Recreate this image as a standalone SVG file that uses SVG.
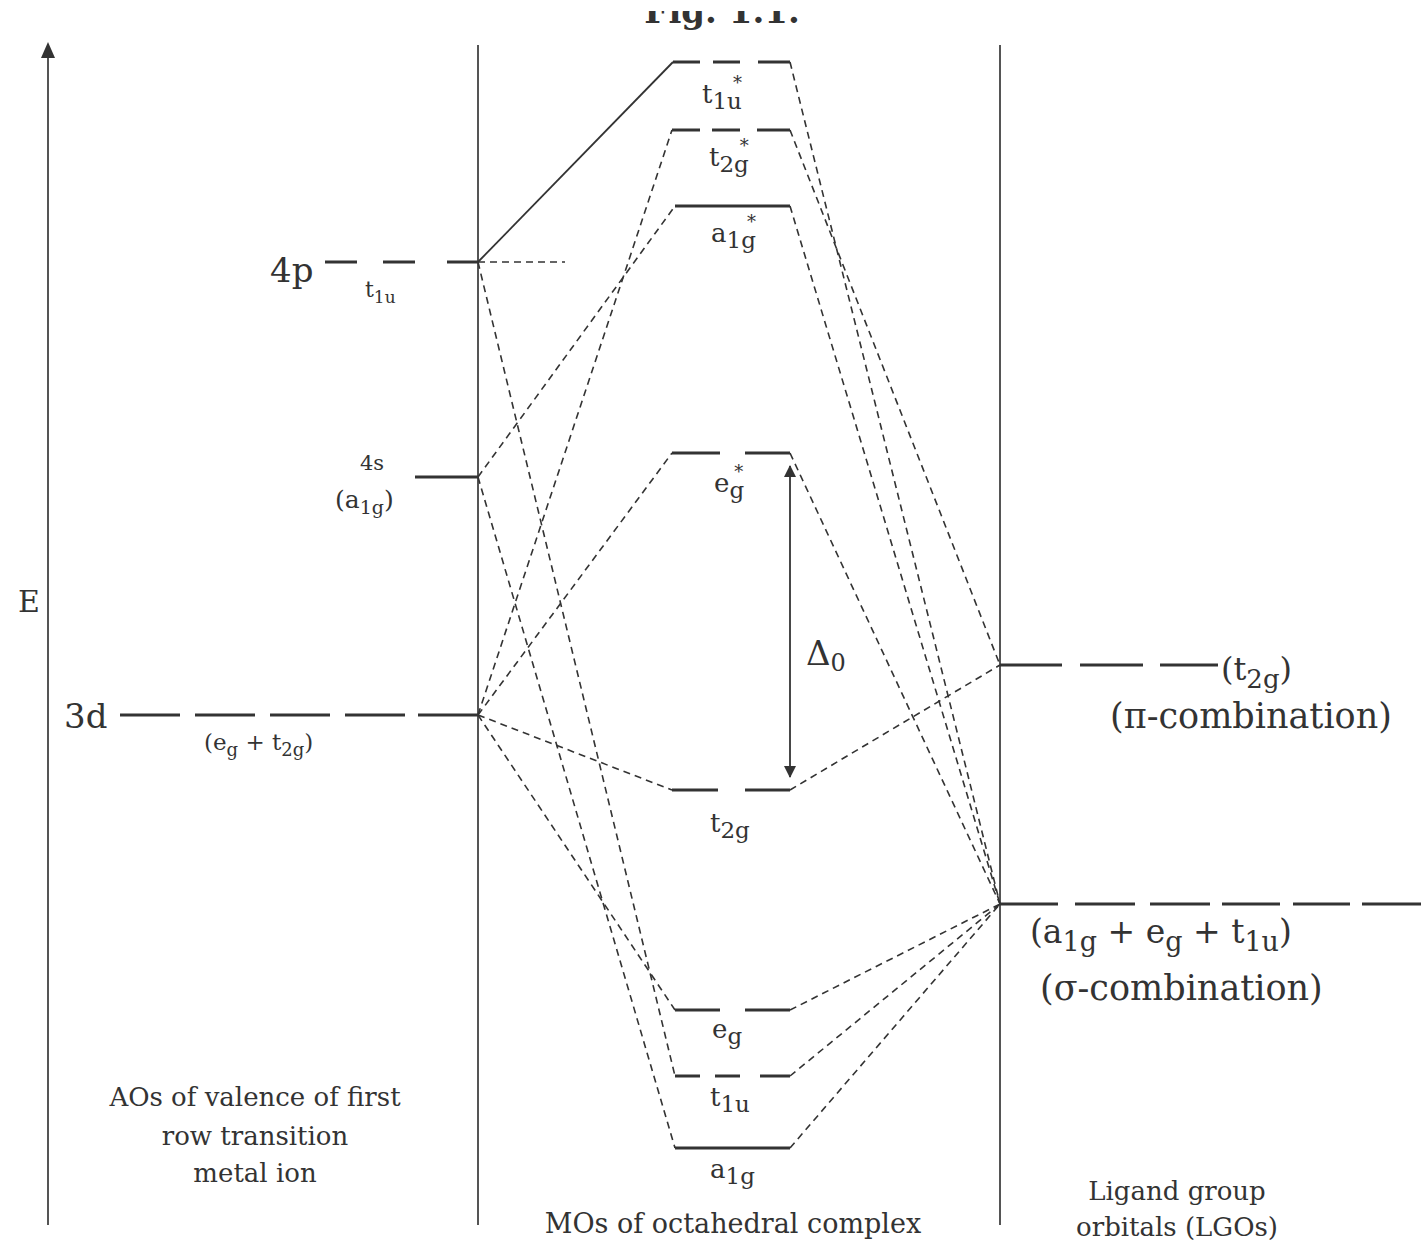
<svg xmlns="http://www.w3.org/2000/svg" width="1421" height="1247" viewBox="0 0 1421 1247">
<style>
text{font-family:"DejaVu Serif","Liberation Serif",serif;fill:#333}
.lvl{stroke:#333;stroke-width:3;fill:none}
.ax{stroke:#555;stroke-width:2;fill:none}
.dc{stroke:#333;stroke-width:1.6;stroke-dasharray:7 5;fill:none}
.sl{stroke:#333;stroke-width:1.8;fill:none}
.m{font-size:26px}
.big{font-size:34px}
.sm{font-size:22px}
</style>
<defs>
<clipPath id="topclip"><rect x="0" y="11" width="1421" height="40"/></clipPath>
<marker id="ah" viewBox="0 0 12 12" refX="11" refY="6" markerWidth="12" markerHeight="12" markerUnits="userSpaceOnUse" orient="auto-start-reverse"><path d="M0,0 L12,6 L0,12 z" fill="#333"/></marker>
</defs>
<rect width="1421" height="1247" fill="#fff"/>
<g id="title" clip-path="url(#topclip)"><text x="722" y="23" font-size="34" font-weight="bold" text-anchor="middle">Fig. 1.1.</text></g>
<g id="axes">
<line class="ax" x1="48" y1="1225" x2="48" y2="56"/>
<polygon points="48,42 41,58 55,58" fill="#333"/>
<text x="18" y="612" font-size="30">E</text>
<line class="ax" x1="478" y1="45" x2="478" y2="1225"/>
<line class="ax" x1="1000" y1="45" x2="1000" y2="1225"/>
</g>
<g id="connectors">
<line class="sl" x1="478" y1="262" x2="673" y2="62"/>
<line class="dc" x1="478" y1="262" x2="565" y2="262"/>
<line class="dc" x1="478" y1="262" x2="675" y2="1076"/>
<line class="dc" x1="478" y1="477" x2="675" y2="206"/>
<line class="dc" x1="478" y1="477" x2="675" y2="1148"/>
<line class="dc" x1="478" y1="715" x2="672" y2="130"/>
<line class="dc" x1="478" y1="715" x2="672" y2="453"/>
<line class="dc" x1="478" y1="715" x2="672" y2="790"/>
<line class="dc" x1="478" y1="715" x2="675" y2="1010"/>
<line class="dc" x1="790" y1="62" x2="1000" y2="904"/>
<line class="dc" x1="790" y1="130" x2="1000" y2="665"/>
<line class="dc" x1="790" y1="206" x2="1000" y2="904"/>
<line class="dc" x1="790" y1="453" x2="1000" y2="904"/>
<line class="dc" x1="790" y1="790" x2="1000" y2="665"/>
<line class="dc" x1="790" y1="1010" x2="1000" y2="904"/>
<line class="dc" x1="790" y1="1076" x2="1000" y2="904"/>
<line class="dc" x1="790" y1="1148" x2="1000" y2="904"/>
<line class="sl" x1="790" y1="466" x2="790" y2="777" marker-start="url(#ah)" marker-end="url(#ah)"/>
</g>
<g id="n4p">
<path class="lvl" d="M325 262H357M383 262H415M447 262H478"/>
<text class="big" x="270" y="282">4p</text>
<text class="sm" x="365" y="297">t<tspan font-size="17" dy="6">1u</tspan></text>
</g>
<g id="n4s">
<path class="lvl" d="M415 477H478"/>
<text x="372" y="470" font-size="21" text-anchor="middle">4s</text>
<text x="335" y="508" font-size="25">(a<tspan font-size="19" dy="6">1g</tspan><tspan dy="-6">)</tspan></text>
</g>
<g id="n3d">
<path class="lvl" d="M120 715H180M195 715H255M270 715H330M345 715H405M418 715H478"/>
<text class="big" x="64" y="728">3d</text>
<text x="204" y="750" font-size="23">(e<tspan font-size="18" dy="6">g</tspan><tspan dy="-6"> + t</tspan><tspan font-size="18" dy="6">2g</tspan><tspan dy="-6">)</tspan></text>
</g>
<g id="t1u_star">
<path class="lvl" d="M673 62H700M713 62H740M758 62H790"/>
<text class="m" x="702" y="103">t<tspan font-size="23" dy="6">1u</tspan><tspan font-size="18" dx="-9" dy="-20">*</tspan></text>
</g>
<g id="t2g_star">
<path class="lvl" d="M672 130H700M712 130H740M757 130H790"/>
<text class="m" x="709" y="166">t<tspan font-size="23" dy="6">2g</tspan><tspan font-size="18" dx="-9" dy="-20">*</tspan></text>
</g>
<g id="a1g_star">
<path class="lvl" d="M675 206H790"/>
<text class="m" x="711" y="242">a<tspan font-size="23" dy="6">1g</tspan><tspan font-size="18" dx="-9" dy="-20">*</tspan></text>
</g>
<g id="eg_star">
<path class="lvl" d="M672 453H720M745 453H790"/>
<text class="m" x="714" y="492">e<tspan font-size="23" dy="6">g</tspan><tspan font-size="18" dx="-10" dy="-20">*</tspan></text>
</g>
<g id="delta">
<text class="big" x="806" y="665">Δ<tspan font-size="24" dy="6">0</tspan></text>
</g>
<g id="t2g">
<path class="lvl" d="M672 790H718M745 790H790"/>
<text class="m" x="710" y="832">t<tspan font-size="23" dy="6">2g</tspan></text>
</g>
<g id="eg">
<path class="lvl" d="M675 1010H720M745 1010H790"/>
<text class="m" x="712" y="1038">e<tspan font-size="23" dy="6">g</tspan></text>
</g>
<g id="t1u">
<path class="lvl" d="M675 1076H700M715 1076H740M760 1076H790"/>
<text class="m" x="710" y="1106">t<tspan font-size="23" dy="6">1u</tspan></text>
</g>
<g id="a1g">
<path class="lvl" d="M675 1148H790"/>
<text class="m" x="710" y="1178">a<tspan font-size="23" dy="6">1g</tspan></text>
</g>
<g id="pi">
<path class="lvl" d="M1000 665H1062M1080 665H1143M1160 665H1218"/>
<text x="1221" y="680" font-size="32">(t<tspan font-size="26" dy="8">2g</tspan><tspan dy="-8">)</tspan></text>
<text x="1110" y="728" font-size="35">(π-combination)</text>
</g>
<g id="sigma">
<path class="lvl" d="M1000 904H1058M1075 904H1135M1150 904H1210M1222 904H1280M1293 904H1350M1362 904H1421"/>
<text x="1030" y="943" font-size="33">(a<tspan font-size="27" dy="8">1g</tspan><tspan dy="-8"> + e</tspan><tspan font-size="27" dy="8">g</tspan><tspan dy="-8"> + t</tspan><tspan font-size="27" dy="8">1u</tspan><tspan dy="-8">)</tspan></text>
<text x="1040" y="1000" font-size="35">(σ-combination)</text>
</g>
<g id="captions">
<text x="255" y="1106" font-size="26" text-anchor="middle">AOs of valence of first</text>
<text x="255" y="1145" font-size="26" text-anchor="middle">row transition</text>
<text x="255" y="1182" font-size="26" text-anchor="middle">metal ion</text>
<text x="733" y="1233" font-size="27" text-anchor="middle">MOs of octahedral complex</text>
<text x="1177" y="1200" font-size="26" text-anchor="middle">Ligand group</text>
<text x="1177" y="1236" font-size="26" text-anchor="middle">orbitals (LGOs)</text>
</g>
</svg>
